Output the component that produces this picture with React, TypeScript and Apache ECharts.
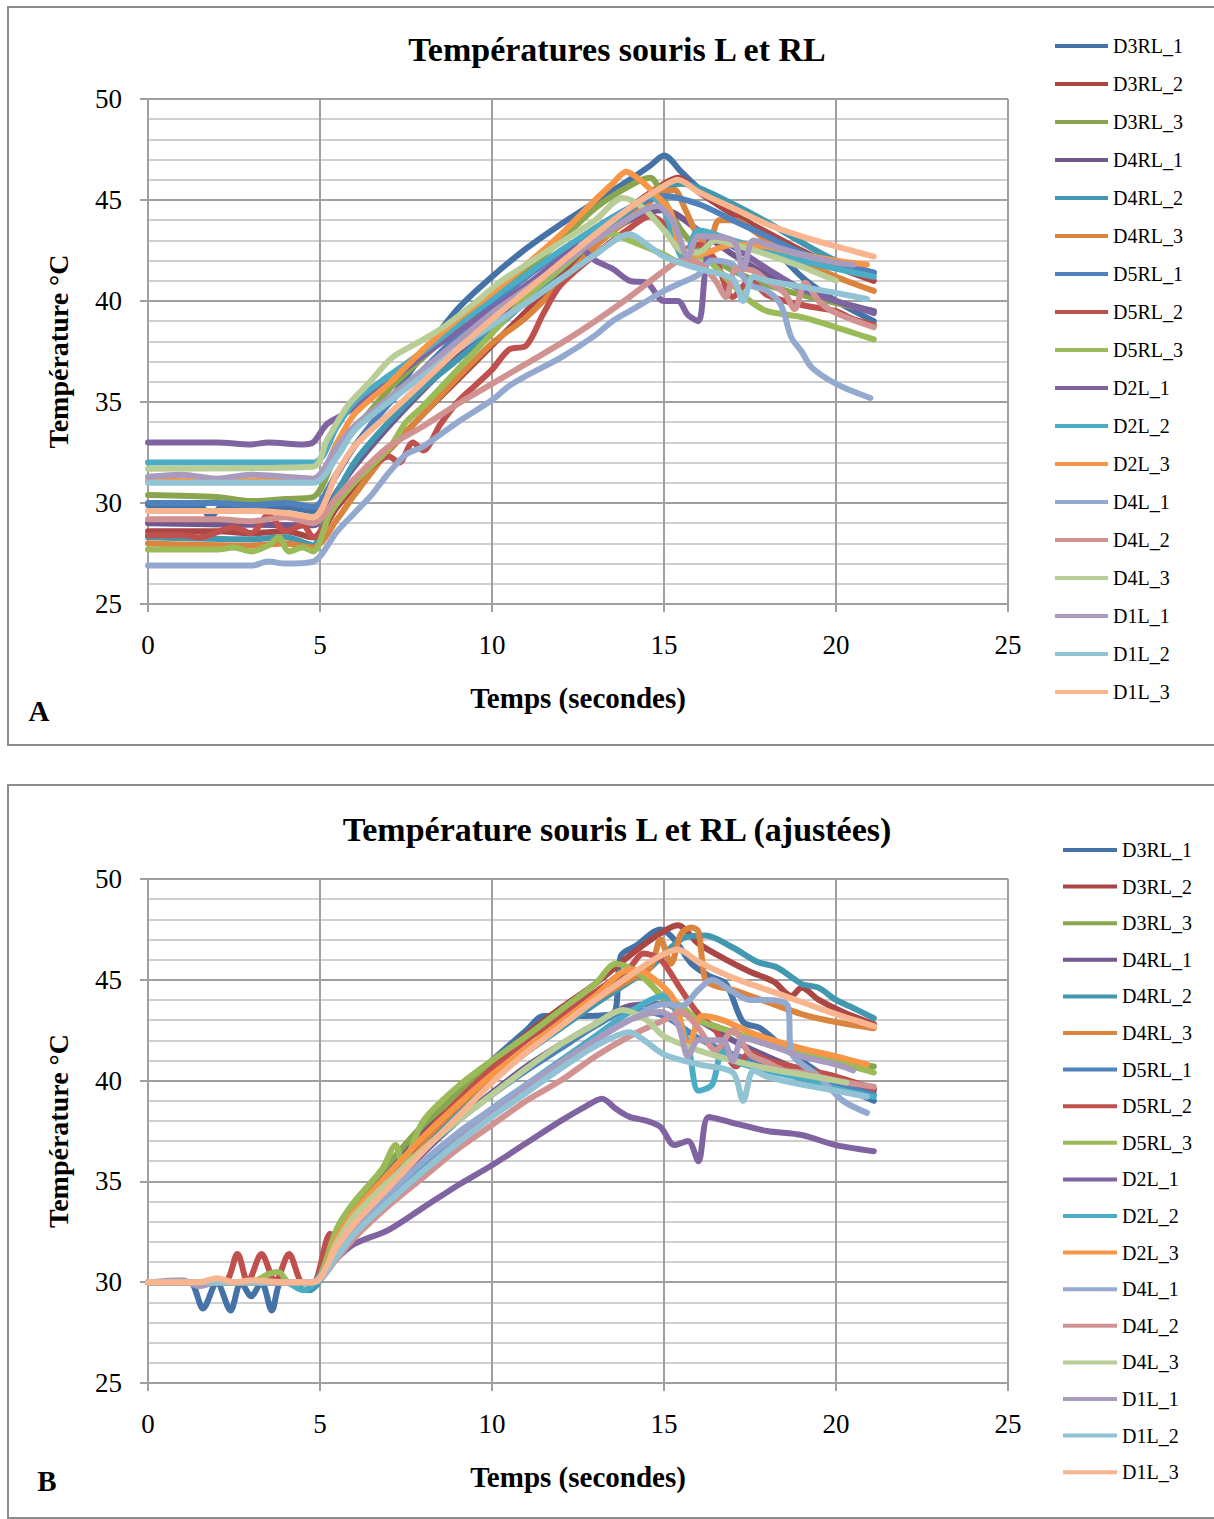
import React, { useEffect, useRef } from "react";
import * as echarts from "echarts";

type Pt = [number, number];

const SERIES_NAMES = [
  "D3RL_1", "D3RL_2", "D3RL_3", "D4RL_1", "D4RL_2", "D4RL_3",
  "D5RL_1", "D5RL_2", "D5RL_3", "D2L_1", "D2L_2", "D2L_3",
  "D4L_1", "D4L_2", "D4L_3", "D1L_1", "D1L_2", "D1L_3",
];

const COLORS = [
  "#4572A7", "#AA4643", "#89A54E", "#71588F", "#4198AF", "#DB843D",
  "#4F81BD", "#C0504D", "#9BBB59", "#8064A2", "#4BACC6", "#F79646",
  "#93A9CF", "#D19392", "#B9CD96", "#A99BBD", "#91C3D5", "#F9B590",
];

const TITLE_A = "Températures souris L et RL";
const TITLE_B = "Température souris L et RL (ajustées)";
const X_NAME = "Temps (secondes)";
const Y_NAME = "Température °C";

// ---------- Panel A (raw temperatures) ----------
const A_D3RL_1: Pt[] = [[0,29.9],[1.5,29.9],[1.8,29.3],[2.2,29.9],[3,29.6],[4,29.8],[4.8,29.6],[5.2,30.6],[6,32.8],[7,35.0],[8,37.4],[9,39.6],[10,41.2],[11,42.6],[12,43.8],[13,44.9],[14,46.0],[14.6,46.7],[15,47.2],[15.5,46.4],[16,45.6],[17,44.6],[18,43.0],[19,41.2],[20,40.0],[21.1,39.0]];
const A_D3RL_2: Pt[] = [[0,28.6],[2,28.6],[3,28.5],[4,28.6],[4.8,28.3],[5.5,29.8],[6,30.8],[7,32.6],[8,34.4],[9,36.1],[10,37.8],[11,39.5],[12,41.3],[13,43.0],[14,44.6],[15,45.8],[15.4,46.1],[16,45.4],[17,44.3],[18,43.4],[19,42.5],[20,41.7],[21.1,41.0]];
const A_D3RL_3: Pt[] = [[0,30.4],[2,30.3],[3,30.1],[4,30.2],[4.8,30.3],[5.5,32.5],[6,33.6],[7,35.6],[8,37.2],[9,38.7],[10,40.0],[11,41.5],[12,43.0],[13,44.6],[14,45.7],[14.6,46.1],[15,45.0],[15.5,43.5],[16,42.6],[17,41.5],[18,40.8],[19,40.3],[20,39.9],[21.1,39.5]];
const A_D4RL_1: Pt[] = [[0,29.0],[4.8,28.9],[5.5,30.6],[6,31.8],[7,33.8],[8,35.6],[9,37.3],[10,38.9],[11,40.3],[12,41.6],[13,42.9],[14,44.0],[15,44.5],[16,43.5],[17,42.3],[18,41.3],[19,40.6],[20,40.0],[21.1,39.5]];
const A_D4RL_2: Pt[] = [[0,28.3],[3,28.2],[4,28.3],[4.6,28.0],[4.8,27.9],[5.2,29.5],[6,32.0],[7,34.0],[8,35.7],[9,37.1],[10,38.5],[11,40.0],[12,41.6],[13,43.1],[14,44.4],[15,45.5],[15.5,45.8],[16,45.6],[17,44.8],[18,43.9],[19,42.9],[20,42.0],[21.1,41.4]];
const A_D4RL_3: Pt[] = [[0,28.0],[3,27.9],[4,28.0],[4.8,27.8],[5.5,29.2],[6,30.4],[7,32.6],[8,34.4],[9,36.2],[10,37.9],[11,39.2],[12,40.9],[13,42.7],[14,44.1],[14.9,45.3],[15.3,45.5],[15.6,44.6],[16,43.2],[16.3,42.9],[16.6,44.0],[17,44.0],[18,43.0],[19,42.0],[20,41.2],[21.1,40.5]];
const A_D5RL_1: Pt[] = [[0,30.0],[2,30.0],[3,29.9],[4,30.0],[4.8,29.8],[5.5,31.5],[6,32.8],[7,34.9],[8,36.6],[9,38.3],[10,39.8],[11,41.2],[12,42.4],[13,43.6],[14,44.6],[15,45.2],[16,44.8],[17,44.0],[18,43.2],[19,42.4],[20,41.9],[21.1,41.4]];
const A_D5RL_2: Pt[] = [[0,28.4],[1,28.4],[1.5,28.3],[2.5,28.8],[3,28.5],[3.5,29.4],[4,28.6],[4.5,28.9],[4.8,28.3],[5.5,30.0],[6,31.0],[6.5,31.8],[7,32.3],[7.3,32.0],[7.7,33.0],[8,32.6],[8.5,33.9],[9,35.0],[9.5,35.8],[10,36.6],[10.5,37.6],[11,37.8],[11.5,39.4],[12,40.8],[13,42.3],[14,43.6],[14.6,44.2],[15,43.8],[15.5,42.5],[16,42.8],[16.5,42.0],[17,40.2],[17.5,41.0],[18,40.3],[19,39.8],[20,39.5],[20.5,39.1],[21.1,38.8]];
const A_D5RL_3: Pt[] = [[0,27.7],[2,27.7],[2.5,27.8],[3,27.6],[3.5,27.9],[3.8,28.3],[4.1,27.6],[4.5,27.8],[4.8,27.6],[5.3,29.5],[6,31.0],[7,32.7],[7.5,34.0],[8,34.8],[9,36.6],[10,38.4],[11,40.2],[12,41.6],[13,43.0],[13.5,43.3],[14,43.0],[15,42.3],[15.5,41.9],[16,42.2],[17,40.8],[17.5,40.0],[18,39.5],[19,39.2],[20,38.7],[21.1,38.1]];
const A_D2L_1: Pt[] = [[0,33.0],[2,33.0],[3,32.9],[3.5,33.0],[4.5,32.9],[4.8,33.0],[5.2,33.9],[5.8,34.5],[6.5,35.4],[7,36.0],[8,37.3],[9,38.5],[10,39.6],[11,40.8],[12,42.1],[12.5,42.7],[13,42.0],[13.5,41.6],[14,41.0],[14.5,40.9],[15,40.0],[15.4,40.0],[15.7,39.3],[16,39.0],[16.2,41.5],[16.4,43.2],[17,42.7],[18,41.6],[19,40.6],[20,40.0],[21.1,39.4]];
const A_D2L_2: Pt[] = [[0,32.0],[4.8,32.0],[5.5,33.8],[6,35.0],[7,36.3],[8,37.5],[9,38.8],[10,40.1],[11,41.3],[12,42.5],[13,43.6],[14,44.6],[14.6,45.2],[15,44.5],[15.3,43.0],[15.6,42.0],[16,43.5],[17,43.0],[18,42.5],[19,42.0],[20,41.6],[21.1,41.2]];
const A_D2L_3: Pt[] = [[0,31.1],[4.8,31.1],[5.5,33.0],[6,34.4],[7,35.9],[8,37.6],[9,39.1],[10,40.4],[11,41.8],[12,43.3],[13,45.0],[13.5,45.8],[13.9,46.4],[14.3,46.0],[14.8,45.2],[15.2,44.4],[15.5,42.5],[16,42.3],[17,42.8],[18,42.7],[19,42.3],[20,42.0],[20.9,41.8]];
const A_D4L_1: Pt[] = [[0,26.9],[3,26.9],[3.5,27.1],[4,27.0],[4.8,27.1],[5.5,28.6],[6,29.5],[6.5,30.4],[7,31.5],[7.5,32.4],[8,32.8],[9,34.0],[10,35.1],[10.5,35.8],[11,36.3],[12,37.2],[13,38.3],[13.5,39.0],[14,39.5],[14.5,40.0],[15,40.5],[15.5,40.9],[16,41.3],[16.4,42.0],[17,41.8],[17.5,40.8],[18,40.5],[18.4,39.8],[18.7,38.2],[19,37.5],[19.3,36.7],[20,35.9],[21,35.2]];
const A_D4L_2: Pt[] = [[0,29.2],[2,29.2],[3,29.1],[4,29.3],[4.8,29.0],[5.5,30.3],[6,31.2],[7,32.8],[8,33.8],[9,34.9],[10,35.9],[11,36.9],[12,37.9],[13,39.0],[14,40.2],[15,41.5],[15.5,42.0],[16,41.9],[16.5,41.0],[16.8,40.2],[17.1,41.6],[17.6,41.5],[18,41.0],[18.5,40.4],[18.8,39.6],[19.1,40.9],[19.5,40.0],[20,39.4],[21.1,38.7]];
const A_D4L_3: Pt[] = [[0,31.7],[4.8,31.8],[5.2,33.1],[5.8,34.8],[6.4,35.9],[7.1,37.2],[7.8,37.9],[8.5,38.6],[9.5,39.9],[10.2,40.9],[11,41.8],[12,42.9],[13,44.0],[13.8,45.1],[14.4,44.6],[15,43.5],[15.5,42.5],[16,42.4],[16.5,43.0],[17,42.8],[18,42.3],[19,41.7],[20,41.0]];
const A_D1L_1: Pt[] = [[0,31.3],[1,31.4],[2,31.2],[3,31.4],[4,31.3],[4.8,31.2],[5.5,32.8],[6,33.8],[7,35.2],[8,36.6],[9,38.0],[10,39.4],[11,40.6],[12,41.8],[13,43.0],[14,44.1],[14.8,44.7],[15.3,43.8],[15.7,42.2],[16,43.2],[17,43.0],[17.3,41.6],[17.6,43.0],[18,42.8],[19,42.3],[20,41.9],[20.5,41.8]];
const A_D1L_2: Pt[] = [[0,31.0],[4.8,31.0],[5.5,32.3],[6,33.6],[7,35.0],[8,36.3],[9,37.6],[10,38.8],[11,39.9],[12,41.1],[13,42.3],[14,43.3],[14.5,42.8],[15,42.2],[16,41.6],[17,41.1],[17.3,40.0],[17.6,41.2],[18,41.0],[19,40.7],[20,40.4],[20.9,40.1]];
const A_D1L_3: Pt[] = [[0,29.6],[3,29.6],[4,29.5],[4.8,29.3],[5.5,31.5],[6,32.8],[7,34.4],[8,36.0],[9,37.6],[10,39.1],[11,40.5],[12,41.9],[13,43.3],[14,44.6],[15,45.7],[15.4,46.0],[16,45.4],[17,44.6],[18,43.8],[19,43.2],[20,42.7],[21.1,42.2]];

// ---------- Panel B (adjusted temperatures) ----------
const B_D3RL_1: Pt[] = [[0,30.0],[1.2,30.0],[1.6,28.7],[2.0,30.0],[2.4,28.6],[2.7,30.0],[3.0,29.3],[3.3,30.0],[3.6,28.6],[3.9,30.0],[4.8,30.0],[5.5,32.4],[6,33.7],[7,35.6],[8,37.6],[9,39.4],[10,41.0],[11,42.5],[11.5,43.2],[12.5,43.2],[13.5,43.3],[13.75,46.2],[14.2,46.7],[14.9,47.5],[15.3,47.0],[15.8,45.8],[16.3,45.2],[16.8,44.8],[17.3,42.9],[17.8,42.6],[18.5,41.6],[19.5,40.4],[20.3,39.6],[21.1,39.0]];
const B_D3RL_2: Pt[] = [[0,30],[4.8,30],[5.5,32.3],[6,33.6],[7,35.4],[8,37.3],[9,39.0],[10,40.7],[11,42.3],[12,43.6],[13,44.8],[14,46.2],[14.8,47.2],[15.4,47.7],[16,46.8],[16.8,46.0],[17.5,45.4],[18.2,44.9],[18.7,44.2],[19,44.6],[19.5,44.0],[20.2,43.4],[21.1,42.8]];
const B_D3RL_3: Pt[] = [[0,30],[3,30],[3.5,30.2],[4,30.0],[4.8,30.0],[5.5,32.6],[6,33.9],[7,35.9],[8,37.8],[9,39.3],[10,40.9],[11,42.1],[12,43.0],[13,44.2],[14,45.3],[14.5,45.0],[15,44.0],[15.5,43.4],[16,43.0],[17,42.4],[18,41.8],[19,41.3],[20,41.0],[21.1,40.7]];
const B_D4RL_1: Pt[] = [[0,30],[4.8,30],[5.5,31.5],[6,32.8],[7,34.6],[8,36.4],[9,38.0],[10,39.4],[11,40.7],[12,41.8],[13,42.8],[14,43.7],[15,43.8],[16,43.0],[17,42.0],[18,41.2],[19,40.5],[20,40.0],[21.1,39.5]];
const B_D4RL_2: Pt[] = [[0,30],[4,30],[4.4,29.7],[4.7,29.6],[5,30.1],[5.5,31.8],[6,33.0],[7,35.0],[8,36.8],[9,38.5],[10,40.0],[11,41.4],[12,42.6],[13,43.8],[14,44.9],[14.6,45.6],[15.2,46.6],[15.6,47.1],[16.2,47.2],[17,46.6],[17.7,45.9],[18.3,45.6],[19,44.8],[19.5,44.6],[20,44.0],[20.5,43.6],[21.1,43.1]];
const B_D4RL_3: Pt[] = [[0,30],[4.8,30],[5.5,31.9],[6,33.2],[7,35.2],[8,37.0],[9,38.7],[10,40.2],[11,41.6],[12,42.8],[13,44.0],[14,45.0],[14.6,45.6],[14.9,47.0],[15.2,45.8],[15.5,47.3],[15.8,47.6],[16.0,47.4],[16.2,45.0],[16.5,44.7],[17,44.5],[18,43.9],[19,43.3],[20,42.9],[21.1,42.6]];
const B_D5RL_1: Pt[] = [[0,30],[4.8,30],[5.5,31.6],[6,32.9],[7,34.8],[8,36.5],[9,38.0],[10,39.3],[11,40.5],[12,41.6],[13,42.7],[14,43.5],[15,43.2],[16,42.1],[17,41.3],[18,40.8],[19,40.3],[20,39.8],[21.1,39.3]];
const B_D5RL_2: Pt[] = [[0,30],[2.2,30.0],[2.6,31.4],[2.9,30.0],[3.3,31.4],[3.7,30.0],[4.1,31.4],[4.5,30.0],[4.8,30.0],[5.3,32.4],[5.5,31.8],[6,33.2],[7,35.2],[8,37.2],[9,39.0],[10,40.6],[11,42.0],[12,43.2],[13,44.4],[14,45.6],[14.4,46.3],[14.9,46.0],[15.5,44.5],[16,43.3],[16.5,42.5],[17.1,40.7],[17.5,41.4],[18,41.0],[19,40.6],[20,40.2],[21.1,39.6]];
const B_D5RL_3: Pt[] = [[0,30],[3,30],[3.5,30.4],[3.8,30.5],[4.1,30.0],[4.8,30.0],[5.5,32.7],[6,34.0],[6.8,35.6],[7.2,36.8],[7.4,35.9],[8,38.0],[9,39.7],[10,41.0],[11,42.2],[12,43.5],[13,44.8],[13.6,45.8],[14.2,45.4],[14.9,44.3],[15.5,43.7],[16,43.0],[17,42.4],[18,41.8],[19,41.3],[20,40.9],[21.1,40.4]];
const B_D2L_1: Pt[] = [[0,30],[4.8,30],[5.5,31.2],[6,31.9],[7,32.6],[8,33.7],[9,34.8],[10,35.8],[11,36.9],[12,38.0],[12.7,38.7],[13.2,39.1],[13.6,38.6],[14,38.2],[14.5,38.0],[14.9,37.7],[15.3,36.8],[15.7,37.0],[16,36.0],[16.3,38.2],[17,37.9],[18,37.5],[19,37.3],[20,36.8],[21.1,36.5]];
const B_D2L_2: Pt[] = [[0,30],[4,30],[4.5,29.6],[4.8,29.9],[5.5,31.5],[6,32.6],[7,34.2],[8,35.8],[9,37.2],[10,38.6],[11,39.8],[12,41.0],[13,42.2],[14,43.4],[15,44.2],[15.3,43.6],[15.7,41.8],[16,39.5],[16.4,39.8],[16.7,41.5],[17,41.0],[18,40.5],[19,40.1],[20,39.6],[21.1,39.2]];
const B_D2L_3: Pt[] = [[0,30],[4.8,30],[5.5,32.2],[6,33.5],[7,35.4],[8,37.2],[9,38.8],[10,40.3],[11,41.6],[12,42.9],[13,44.2],[14,45.5],[14.5,45.3],[15.3,44.0],[15.7,41.6],[16.1,43.2],[16.7,43.0],[17.5,42.4],[18,42.1],[19,41.6],[20,41.2],[20.9,40.8]];
const B_D4L_1: Pt[] = [[0,30],[4.8,30],[5.5,31.6],[6,32.8],[7,34.4],[8,36.0],[9,37.4],[10,38.6],[11,39.8],[12,40.9],[13,42.0],[14,43.0],[15,43.8],[15.5,43.7],[16,44.5],[16.4,45.0],[17,44.4],[17.5,44.0],[18,44.0],[18.6,43.7],[18.7,41.4],[19.5,40.2],[20.2,39.0],[20.9,38.4]];
const B_D4L_2: Pt[] = [[0,30],[4.8,30],[5.5,31.2],[6,32.2],[7,33.8],[8,35.2],[9,36.6],[10,37.8],[11,39.0],[12,40.0],[13,41.2],[14,42.2],[15,43.0],[15.5,43.4],[16,42.6],[16.5,41.5],[17,42.5],[17.5,41.3],[18,40.9],[18.5,40.5],[19,40.4],[20,40.0],[21.1,39.7]];
const B_D4L_3: Pt[] = [[0,30],[4.8,30],[5.5,32.0],[6,33.3],[7,35.0],[8,36.6],[9,38.0],[10,39.3],[11,40.6],[12,41.8],[13,42.8],[13.8,43.5],[14.5,43.0],[15,42.2],[16,41.5],[17,41.0],[18,40.6],[19,40.3],[20,40.0],[20.3,39.9]];
const B_D1L_1: Pt[] = [[0,30],[1,30.1],[1.5,29.8],[2,30.0],[4.8,30],[5.5,31.4],[6,32.5],[7,34.0],[8,35.5],[9,37.0],[10,38.3],[11,39.6],[12,40.9],[13,42.0],[14,43.0],[14.9,43.4],[15.4,42.8],[15.7,41.2],[16,42.0],[16.7,42.0],[17,41.0],[17.3,42.1],[18,41.8],[19,41.2],[20,40.8],[20.5,40.5]];
const B_D1L_2: Pt[] = [[0,30],[4.8,30],[5.5,31.3],[6,32.4],[7,34.0],[8,35.5],[9,36.9],[10,38.2],[11,39.4],[12,40.6],[13,41.7],[14,42.4],[14.5,41.9],[15,41.3],[16,40.8],[17,40.4],[17.3,39.0],[17.6,40.5],[18,40.2],[19,39.8],[20,39.5],[20.9,39.2]];
const B_D1L_3: Pt[] = [[0,30],[1.5,30.0],[2,30.2],[2.5,30.0],[3,30.1],[4,30.0],[4.8,30.0],[5.5,31.8],[6,32.9],[7,34.7],[8,36.5],[9,38.2],[10,39.9],[11,41.4],[12,42.7],[13,44.0],[14,45.2],[14.8,46.1],[15.4,46.5],[16,45.9],[17,45.1],[18,44.5],[19,43.9],[20,43.3],[21.1,42.7]];

const PANEL_A: Pt[][] = [A_D3RL_1, A_D3RL_2, A_D3RL_3, A_D4RL_1, A_D4RL_2, A_D4RL_3, A_D5RL_1, A_D5RL_2, A_D5RL_3, A_D2L_1, A_D2L_2, A_D2L_3, A_D4L_1, A_D4L_2, A_D4L_3, A_D1L_1, A_D1L_2, A_D1L_3];
const PANEL_B: Pt[][] = [B_D3RL_1, B_D3RL_2, B_D3RL_3, B_D4RL_1, B_D4RL_2, B_D4RL_3, B_D5RL_1, B_D5RL_2, B_D5RL_3, B_D2L_1, B_D2L_2, B_D2L_3, B_D4L_1, B_D4L_2, B_D4L_3, B_D1L_1, B_D1L_2, B_D1L_3];

const FONT = "'Liberation Serif', 'Times New Roman', serif";
const MAJOR = "#a0a0a0";
const MINOR = "#cfcfcf";

function xAxisFor(gridIndex: number) {
  return {
    type: "value", gridIndex, min: 0, max: 25, interval: 5,
    axisLine: { show: true, onZero: false, lineStyle: { color: MAJOR, width: 2 } },
    axisTick: { show: true, length: 8, lineStyle: { color: MAJOR, width: 2 } },
    axisLabel: { fontFamily: FONT, fontSize: 27, color: "#000", margin: 27 },
    splitLine: { show: true, lineStyle: { color: MAJOR, width: 2 } },
    name: X_NAME, nameLocation: "middle", nameGap: 79,
    nameTextStyle: { fontFamily: FONT, fontWeight: "bold", fontSize: 29, color: "#000" },
  };
}
function yAxisFor(gridIndex: number) {
  return {
    type: "value", gridIndex, min: 25, max: 50, interval: 5,
    axisLine: { show: true, onZero: false, lineStyle: { color: MAJOR, width: 2 } },
    axisTick: { show: true, length: 8, lineStyle: { color: MAJOR, width: 2 } },
    axisLabel: { fontFamily: FONT, fontSize: 27, color: "#000", margin: 26 },
    splitLine: { show: true, lineStyle: { color: MAJOR, width: 2 } },
    minorTick: { show: false, splitNumber: 5 },
    minorSplitLine: { show: true, lineStyle: { color: MINOR, width: 2 } },
    name: Y_NAME, nameLocation: "middle", nameGap: 76, nameRotate: 90,
    nameTextStyle: { fontFamily: FONT, fontWeight: "bold", fontSize: 28, color: "#000" },
  };
}
function legendFor(left: number, top: number, gap: number, itemWidth: number) {
  return {
    orient: "vertical", left, top, padding: 0, itemGap: gap, itemWidth, itemHeight: 4,
    icon: "rect", data: SERIES_NAMES, selectedMode: false,
    textStyle: { fontFamily: FONT, fontSize: 20, color: "#000" },
  };
}
function seriesFor(panel: Pt[][], idx: number) {
  return panel.map((data, i) => ({
    type: "line", name: SERIES_NAMES[i], xAxisIndex: idx, yAxisIndex: idx,
    data, showSymbol: false, symbol: "none", smooth: 0.3, silent: true,
    lineStyle: { width: 6, color: COLORS[i], cap: "round", join: "round" },
    itemStyle: { color: COLORS[i] },
    emphasis: { disabled: true },
  }));
}

export default function App() {
  const ref = useRef<HTMLDivElement>(null);
  useEffect(() => {
    if (!ref.current) return;
    const chart = echarts.init(ref.current, null, { renderer: "svg" });
    chart.setOption({
      animation: false,
      backgroundColor: "#fff",
      title: [
        { text: TITLE_A, left: 612, top: 27, textAlign: "center", textStyle: { fontFamily: FONT, fontWeight: "bold", fontSize: 34, color: "#000" } },
        { text: TITLE_B, left: 612, top: 807, textAlign: "center", textStyle: { fontFamily: FONT, fontWeight: "bold", fontSize: 34, color: "#000" } },
      ],
      grid: [
        { left: 148, top: 99, width: 860, height: 505 },
        { left: 148, top: 879, width: 860, height: 504 },
      ],
      xAxis: [xAxisFor(0), xAxisFor(1)],
      yAxis: [yAxisFor(0), yAxisFor(1)],
      legend: [legendFor(1055, 36, 18, 53), legendFor(1063, 840, 16.6, 54)],
      graphic: [
        { type: "rect", silent: true, z: -10, shape: { x: 8, y: 7, width: 1240, height: 738 }, style: { fill: "none", stroke: "#8c8c8c", lineWidth: 2 } },
        { type: "rect", silent: true, z: -10, shape: { x: 8, y: 785, width: 1240, height: 733 }, style: { fill: "none", stroke: "#8c8c8c", lineWidth: 2 } },
        { type: "text", silent: true, x: 39, y: 711, style: { text: "A", fontFamily: FONT, fontWeight: "bold", fontSize: 29, fill: "#000", textAlign: "center", textVerticalAlign: "middle" } },
        { type: "text", silent: true, x: 47, y: 1481, style: { text: "B", fontFamily: FONT, fontWeight: "bold", fontSize: 29, fill: "#000", textAlign: "center", textVerticalAlign: "middle" } },
      ],
      series: [...seriesFor(PANEL_A, 0), ...seriesFor(PANEL_B, 1)],
    });
    return () => chart.dispose();
  }, []);
  return <div ref={ref} style={{ position: "absolute", left: 0, top: 0, width: 1214, height: 1519, background: "#fff" }} />;
}
